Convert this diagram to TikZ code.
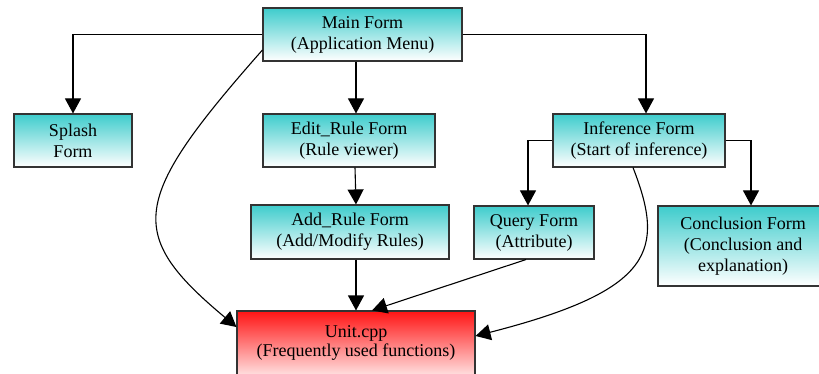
\documentclass[tikz,border=0pt]{standalone}
\usepackage{fontspec}
\setmainfont{Liberation Serif}
\usetikzlibrary{arrows.meta}
\definecolor{cy}{RGB}{62,204,204}
\definecolor{rd}{RGB}{255,20,20}
\begin{document}
\begin{tikzpicture}[x=1pt,y=-1pt,
  box/.style={draw=black!80, line width=1.1pt, top color=cy, bottom color=white,
    inner sep=0pt, align=center, font=\fontsize{18}{21}\selectfont},
  redbox/.style={box, top color=rd, bottom color=white},
  arr/.style={line width=1.1pt, -{Triangle[length=15pt,width=16pt]}}]
\useasboundingbox (0,0) rectangle (819,374);
\clip (0,0) rectangle (819,374);
\node[box, minimum width=199pt, minimum height=53pt] (main) at (362.5,34.5) {Main Form\\(Application Menu)};
\node[box, minimum width=118pt, minimum height=53pt] (splash) at (73,140.5) {Splash\\Form};
\node[box, minimum width=172pt, minimum height=53pt] (edit) at (349,140.5) {Edit\_Rule Form\\(Rule viewer)};
\node[box, minimum width=172pt, minimum height=53pt] (inf) at (639,140.5) {Inference Form\\(Start of inference)};
\node[box, minimum width=198pt, minimum height=54pt] (add) at (350,232) {Add\_Rule Form\\(Add/Modify Rules)};
\node[box, minimum width=120pt, minimum height=53pt] (query) at (534,232.5) {Query Form\\(Attribute)};
\node[box, minimum width=170pt, minimum height=80pt] (concl) at (743,246) {Conclusion Form\\(Conclusion and\\explanation)};
\node[redbox, minimum width=238pt, minimum height=74pt, text depth=0pt] (unit) at (356,348) {\raisebox{14pt}{\shortstack{Unit.cpp\\(Frequently used functions)}}};

\draw[arr] (main.west) -| (splash.north);
\draw[arr] ([xshift=-6.5pt]main.south) -- ([xshift=7pt]edit.north);
\draw[arr] (main.east) -| ([xshift=7pt]inf.north);
\draw[arr] ([xshift=6pt]edit.south) -- ([xshift=6pt]add.north);
\draw[arr] (inf.west) -| ([xshift=-6pt]query.north);
\draw[arr] (inf.east) -| ([xshift=8pt]concl.north);
\draw[arr] ([xshift=6pt]add.south) -- (unit.north);
\draw[arr] ([xshift=-8pt]query.south) -- ([xshift=16pt]unit.north);
\draw[arr] ([yshift=-15.5pt]main.west) .. controls (130,200) and (125,234) .. ([yshift=21pt]unit.west);
\draw[arr] ([xshift=-6pt]inf.south) .. controls (665,250) and (655,290) .. ([yshift=12pt]unit.east);
\end{tikzpicture}
\end{document}
